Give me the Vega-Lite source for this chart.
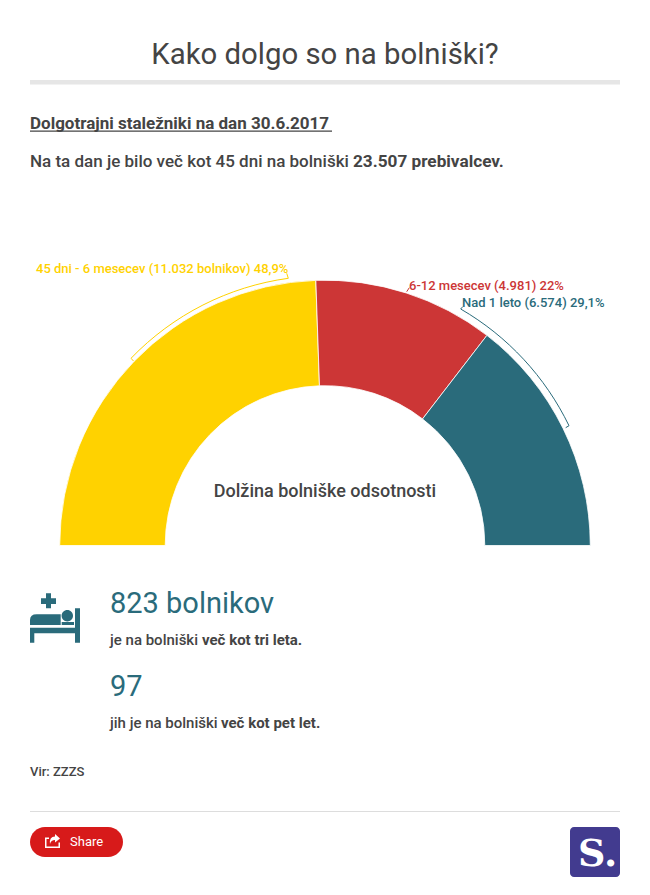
{
"$schema":"https://vega.github.io/schema/vega-lite/v6.json",
"width":650,"height":895,
"autosize":{"type":"fit","contains":"padding"},
"padding":0,
"background":"#ffffff",
"config":{"view":{"stroke":null},"text":{"font":"Roboto"}},
"layer":[
{"data":{"values":[{"period":"45 dni - 6 mesecev","patients":11032,"share":48.9,"rank":1},{"period":"6-12 mesecev","patients":4981,"share":22,"rank":2},{"period":"Nad 1 leto","patients":6574,"share":29.1,"rank":3}]},
 "mark":{"type":"arc","x":325,"y":545.5,"radius":265.3,"radius2":159.8,"stroke":"#ffffff","strokeWidth":0.8},
 "encoding":{"theta":{"field":"share","type":"quantitative","stack":true,"scale":{"range":[-1.5708,1.5708]}},"order":{"field":"rank","type":"ordinal"},"color":{"field":"period","type":"nominal","legend":null,"scale":{"domain":["45 dni - 6 mesecev","6-12 mesecev","Nad 1 leto"],"range":["#ffd200","#cc3636","#2a6b7b"]}}}},
{"data":{"values":[{"period":"45 dni - 6 mesecev"}]},"mark":{"type":"point","x":325,"y":545,"size":4,"opacity":1,"filled":false,"stroke":"#ffd200","strokeWidth":1,"shape":"M -191.5 -184 L -194 -186.7 A 269.2 269.2 0 0 1 -36.7 -266.7 L -38.3 -271.7"},"encoding":{}},
{"data":{"values":[{"period":"6-12 mesecev"}]},"mark":{"type":"point","x":325,"y":545,"size":4,"opacity":1,"filled":false,"stroke":"#cc3636","strokeWidth":1,"shape":"M 81.7 -253.3 L 84.3 -257.3"},"encoding":{}},
{"data":{"values":[{"period":"Nad 1 leto"}]},"mark":{"type":"point","x":325,"y":545,"size":4,"opacity":1,"filled":false,"stroke":"#2a6b7b","strokeWidth":1,"shape":"M 137.7 -238.3 L 135.7 -236 A 272 272 0 0 1 244 -119.3 L 240.7 -117.3"},"encoding":{}},
{"data":{"values":[{"t":"45 dni - 6 mesecev (11.032 bolnikov) 48,9%"}]},"mark":{"type":"text","x":36,"y":273,"align":"left","baseline":"alphabetic","fontSize":13,"fontWeight":500,"color":"#ffd200"},"encoding":{"text":{"field":"t"}}},
{"data":{"values":[{"t":"6-12 mesecev (4.981) 22%"}]},"mark":{"type":"text","x":409,"y":290,"align":"left","baseline":"alphabetic","fontSize":13,"fontWeight":500,"color":"#cc3636"},"encoding":{"text":{"field":"t"}}},
{"data":{"values":[{"t":"Nad 1 leto (6.574) 29,1%"}]},"mark":{"type":"text","x":462,"y":307,"align":"left","baseline":"alphabetic","fontSize":13,"fontWeight":500,"color":"#2a6b7b"},"encoding":{"text":{"field":"t"}}},
{"data":{"values":[{"t":"Kako dolgo so na bolniški?"}]},"mark":{"type":"text","x":325,"y":64,"align":"center","baseline":"alphabetic","fontSize":29.33,"fontWeight":400,"color":"#444444"},"encoding":{"text":{"field":"t"}}},
{"data":{"values":[{}]},"mark":{"type":"rect","x":30,"x2":620,"y":80,"y2":84.5,"color":"#e6e6e6"},"encoding":{}},
{"data":{"values":[{"t":"Dolgotrajni staležniki na dan 30.6.2017"}]},"mark":{"type":"text","x":30,"y":129,"align":"left","baseline":"alphabetic","fontSize":17,"fontWeight":700,"color":"#444444"},"encoding":{"text":{"field":"t"}}},
{"data":{"values":[{}]},"mark":{"type":"rect","x":30,"x2":332,"y":130.5,"y2":131.8,"color":"#444444"},"encoding":{}},
{"data":{"values":[{"t":"Na ta dan je bilo več kot 45 dni na bolniški"}]},"mark":{"type":"text","x":30,"y":167,"align":"left","baseline":"alphabetic","fontSize":17,"fontWeight":500,"color":"#444444"},"encoding":{"text":{"field":"t"}}},
{"data":{"values":[{"t":"23.507 prebivalcev."}]},"mark":{"type":"text","x":353,"y":167,"align":"left","baseline":"alphabetic","fontSize":17.2,"fontWeight":700,"color":"#444444"},"encoding":{"text":{"field":"t"}}},
{"data":{"values":[{"t":"Dolžina bolniške odsotnosti"}]},"mark":{"type":"text","x":325,"y":497,"align":"center","baseline":"alphabetic","fontSize":18,"fontWeight":500,"color":"#444444"},"encoding":{"text":{"field":"t"}}},
{"data":{"values":[{}]},"mark":{"type":"point","x":55,"y":618,"size":4,"opacity":1,"filled":true,"color":"#2a6b7b","strokeWidth":0,"shape":"M -9 -24.7 H -4 V -19.7 H 1 V -14 H -4 V -9.7 H -9 V -14 H -14 V -19.7 H -9 Z M -25 7 V 2 Q -25 -3.7 -18.3 -3.7 H 5.7 V 7 Z M 6.6 -2.3 A 5.7 5.7 0 1 1 18 -2.3 A 5.7 5.7 0 1 1 6.6 -2.3 Z M 6.7 4 H 19 V 7 H 6.7 Z M -25 9.7 H 20 V -9.7 H 25 V 24.7 H 20 V 15.3 H -20.7 V 24.7 H -25 Z"},"encoding":{}},
{"data":{"values":[{"t":"823 bolnikov"}]},"mark":{"type":"text","x":110,"y":613,"align":"left","baseline":"alphabetic","fontSize":29,"fontWeight":400,"color":"#2a6b7b"},"encoding":{"text":{"field":"t"}}},
{"data":{"values":[{"t":"je na bolniški"}]},"mark":{"type":"text","x":110,"y":645,"align":"left","baseline":"alphabetic","fontSize":15,"fontWeight":500,"color":"#444444"},"encoding":{"text":{"field":"t"}}},
{"data":{"values":[{"t":"več kot tri leta."}]},"mark":{"type":"text","x":202,"y":645,"align":"left","baseline":"alphabetic","fontSize":15,"fontWeight":700,"color":"#444444"},"encoding":{"text":{"field":"t"}}},
{"data":{"values":[{"t":"97"}]},"mark":{"type":"text","x":110,"y":696,"align":"left","baseline":"alphabetic","fontSize":29,"fontWeight":400,"color":"#2a6b7b"},"encoding":{"text":{"field":"t"}}},
{"data":{"values":[{"t":"jih je na bolniški"}]},"mark":{"type":"text","x":110,"y":728,"align":"left","baseline":"alphabetic","fontSize":15,"fontWeight":500,"color":"#444444"},"encoding":{"text":{"field":"t"}}},
{"data":{"values":[{"t":"več kot pet let."}]},"mark":{"type":"text","x":221,"y":728,"align":"left","baseline":"alphabetic","fontSize":15,"fontWeight":700,"color":"#444444"},"encoding":{"text":{"field":"t"}}},
{"data":{"values":[{"t":"Vir: ZZZS"}]},"mark":{"type":"text","x":30,"y":776,"align":"left","baseline":"alphabetic","fontSize":13,"fontWeight":500,"color":"#444444"},"encoding":{"text":{"field":"t"}}},
{"data":{"values":[{}]},"mark":{"type":"rect","x":30,"x2":620,"y":811,"y2":812,"color":"#dddddd"},"encoding":{}},
{"data":{"values":[{}]},"mark":{"type":"rect","x":30,"x2":123,"y":827,"y2":857,"color":"#d71a1a","cornerRadius":15},"encoding":{}},
{"data":{"values":[{}]},"mark":{"type":"point","x":52,"y":841,"size":4,"opacity":1,"filled":true,"color":"#ffffff","strokeWidth":0,"shape":"M -7 -3.5 H -3 V -2 H -5.5 V 5.5 H 6.5 V 1.5 H 8 V 7 H -7 Z M 8 -2.5 L 3 -7 V -4.5 Q -3 -4.5 -2 3 Q -1 -1 3 -1 V 1.5 Z"},"encoding":{}},
{"data":{"values":[{"t":"Share"}]},"mark":{"type":"text","x":70,"y":846,"align":"left","baseline":"alphabetic","fontSize":13,"fontWeight":400,"color":"#ffffff"},"encoding":{"text":{"field":"t"}}},
{"data":{"values":[{}]},"mark":{"type":"rect","x":570,"x2":620,"y":827,"y2":877,"color":"#423b8f","cornerRadius":4},"encoding":{}},
{"data":{"values":[{"t":"S."}]},"mark":{"type":"text","x":578,"y":866,"align":"left","baseline":"alphabetic","fontSize":38,"fontWeight":700,"font":"DejaVu Serif","color":"#ffffff"},"encoding":{"text":{"field":"t"}}}
]
}
